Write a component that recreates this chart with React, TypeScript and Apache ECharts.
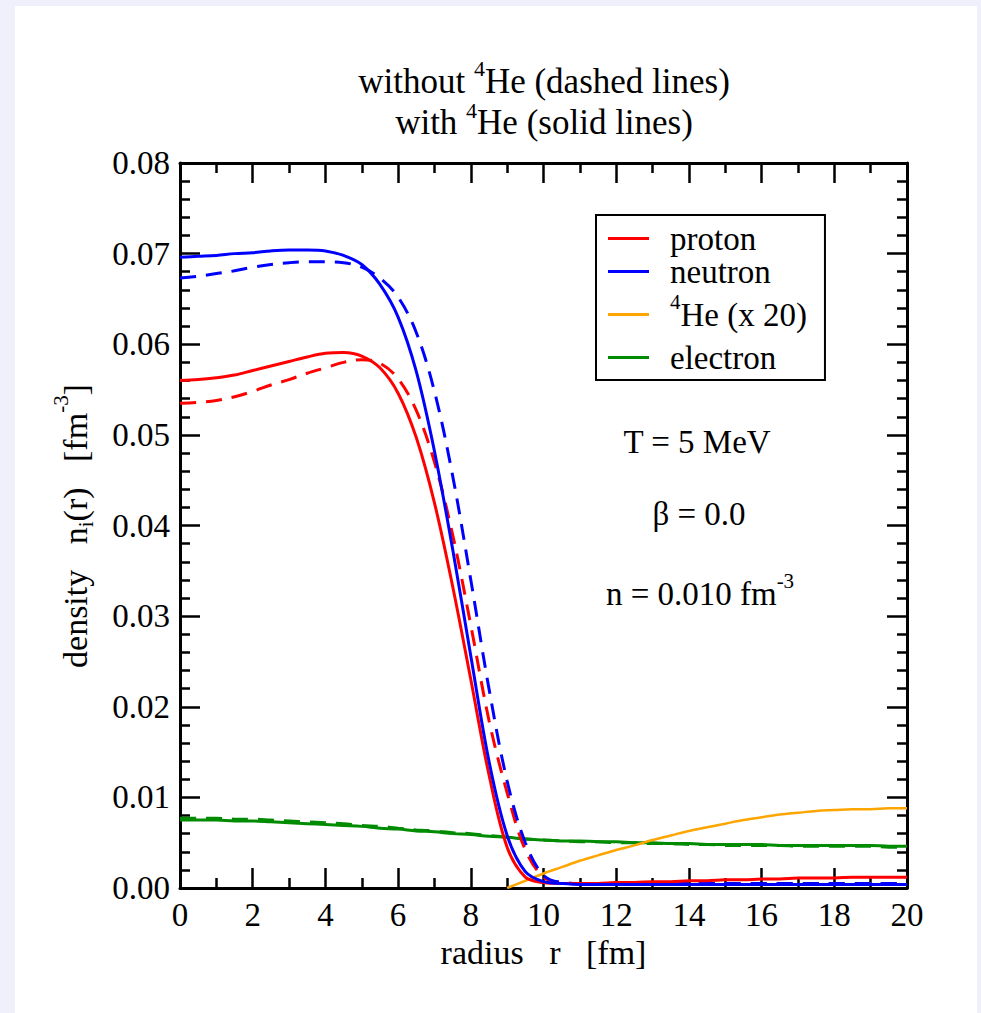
import React, { useEffect, useRef } from "react";
import * as echarts from "echarts";

const FONT = '"Liberation Serif", "Times New Roman", serif';

// radius grid [fm], step 0.5
const radius = [0, 0.5, 1, 1.5, 2, 2.5, 3, 3.5, 4, 4.5, 5, 5.5, 6, 6.5, 7, 7.5, 8, 8.5, 9, 9.5, 10, 10.5, 11, 11.5, 12, 12.5, 13, 13.5, 14, 14.5, 15, 15.5, 16, 16.5, 17, 17.5, 18, 18.5, 19, 19.5, 20];

// with 4He (solid lines)
const protonWith = [0.0560, 0.0561, 0.0563, 0.0566, 0.0571, 0.0576, 0.0581, 0.0586, 0.0590, 0.0591, 0.0587, 0.0574, 0.0546, 0.0497, 0.0425, 0.0333, 0.0230, 0.0125, 0.0045, 0.0012, 0.0006, 0.0005, 0.0005, 0.0005, 0.0006, 0.0006, 0.0007, 0.0007, 0.0008, 0.0008, 0.0009, 0.0009, 0.0010, 0.0010, 0.0011, 0.0011, 0.0011, 0.0012, 0.0012, 0.0012, 0.0012];
const neutronWith = [0.0696, 0.0697, 0.0698, 0.0700, 0.0701, 0.0703, 0.0704, 0.0704, 0.0703, 0.0698, 0.0688, 0.0666, 0.0630, 0.0570, 0.0482, 0.0374, 0.0256, 0.0140, 0.0058, 0.0018, 0.0007, 0.0005, 0.0004, 0.0004, 0.0004, 0.0004, 0.0004, 0.0004, 0.0004, 0.0004, 0.0004, 0.0004, 0.0004, 0.0004, 0.0004, 0.0004, 0.0004, 0.0004, 0.0004, 0.0004, 0.0004];
const heliumX20 = [null, null, null, null, null, null, null, null, null, null, null, null, null, null, null, null, null, null, 0.0000, 0.0008, 0.0016, 0.0023, 0.0030, 0.0036, 0.0042, 0.0047, 0.0053, 0.0058, 0.0063, 0.0067, 0.0071, 0.0075, 0.0078, 0.0081, 0.0083, 0.0085, 0.0086, 0.0087, 0.0087, 0.0088, 0.0088];
const electronWith = [0.0075, 0.0075, 0.0075, 0.0074, 0.0074, 0.0073, 0.0072, 0.0071, 0.0070, 0.0069, 0.0068, 0.0066, 0.0065, 0.0063, 0.0062, 0.0060, 0.0059, 0.0057, 0.0056, 0.0054, 0.0053, 0.0052, 0.0052, 0.0051, 0.0051, 0.0050, 0.0050, 0.0049, 0.0049, 0.0048, 0.0048, 0.0048, 0.0048, 0.0047, 0.0047, 0.0047, 0.0047, 0.0047, 0.0047, 0.0046, 0.0046];

// without 4He (dashed lines)
const protonWithout = [0.0535, 0.0536, 0.0538, 0.0542, 0.0548, 0.0555, 0.0561, 0.0568, 0.0574, 0.0580, 0.0583, 0.0579, 0.0562, 0.0527, 0.0470, 0.0390, 0.0290, 0.0185, 0.0105, 0.0042, 0.0012, 0.0006, 0.0005, 0.0005, 0.0005, 0.0005, 0.0005, 0.0005, 0.0005, 0.0005, 0.0005, 0.0005, 0.0005, 0.0005, 0.0005, 0.0005, 0.0005, 0.0005, 0.0005, 0.0005, 0.0005];
const neutronWithout = [0.0673, 0.0675, 0.0678, 0.0681, 0.0685, 0.0688, 0.0690, 0.0691, 0.0691, 0.0690, 0.0685, 0.0673, 0.0652, 0.0613, 0.0548, 0.0455, 0.0340, 0.0220, 0.0118, 0.0050, 0.0014, 0.0006, 0.0005, 0.0005, 0.0005, 0.0005, 0.0005, 0.0005, 0.0005, 0.0005, 0.0005, 0.0005, 0.0005, 0.0005, 0.0005, 0.0005, 0.0005, 0.0005, 0.0005, 0.0005, 0.0005];
const electronWithout = [0.0077, 0.0077, 0.0077, 0.0076, 0.0076, 0.0075, 0.0074, 0.0073, 0.0072, 0.0071, 0.0069, 0.0068, 0.0066, 0.0064, 0.0063, 0.0061, 0.0060, 0.0058, 0.0056, 0.0054, 0.0053, 0.0052, 0.0051, 0.0051, 0.0050, 0.0050, 0.0049, 0.0049, 0.0048, 0.0048, 0.0047, 0.0047, 0.0047, 0.0047, 0.0046, 0.0046, 0.0046, 0.0046, 0.0046, 0.0045, 0.0045];

const legendNames = ["proton", "neutron", "4He", "electron"];
const RED = "#ff0000";
const BLUE = "#0000ff";
const ORANGE = "#ffa500";
const GREEN = "#008b00";

const pairs = (vals: (number | null)[]) => radius.map((r, i) => [r, vals[i]]);

function lineSeries(name: string, vals: (number | null)[], color: string, dashed: boolean, width = 3, z = 2) {
  return {
    type: "line",
    name,
    data: pairs(vals),
    showSymbol: false,
    symbol: "none",
    smooth: 0.35,
    z,
    lineStyle: { color, width, type: dashed ? [16, 10] : "solid" },
    itemStyle: { color },
  };
}

const axisCommon = {
  axisLine: { onZero: false, lineStyle: { color: "#000", width: 3 } },
  axisTick: { inside: true, length: 20, lineStyle: { color: "#000", width: 2.5 } },
  minorTick: { show: true, length: 10, lineStyle: { color: "#000", width: 2.5 } },
  splitLine: { show: false },
  minorSplitLine: { show: false },
};

export default function App() {
  const ref = useRef<HTMLDivElement>(null);
  useEffect(() => {
    if (!ref.current) return;
    const chart = echarts.init(ref.current, null, { renderer: "svg" });
    const supStyle = (p: number, fs = 21) => ({ fontSize: fs, fontFamily: FONT, fill: "#000", padding: [0, 0, p, 0] });
    chart.setOption({
      animation: false,
      backgroundColor: "#f0f0fc",
      textStyle: { fontFamily: FONT },
      grid: { left: 180, top: 163, width: 727, height: 725 },
      xAxis: [
        {
          type: "value", min: 0, max: 20, interval: 2, position: "bottom",
          ...axisCommon,
          minorTick: { ...axisCommon.minorTick, splitNumber: 2 },
          axisLabel: { color: "#000", fontSize: 33, fontFamily: FONT, margin: 10 },
          name: "radius\u00a0\u00a0\u00a0r\u00a0\u00a0\u00a0[fm]",
          nameLocation: "middle",
          nameGap: 43,
          nameTextStyle: { color: "#000", fontSize: 34, fontFamily: FONT },
        },
        {
          type: "value", min: 0, max: 20, interval: 2, position: "top",
          ...axisCommon,
          minorTick: { ...axisCommon.minorTick, splitNumber: 2 },
          axisLabel: { show: false },
        },
      ],
      yAxis: [
        {
          type: "value", min: 0, max: 0.08, interval: 0.01, position: "left",
          ...axisCommon,
          minorTick: { ...axisCommon.minorTick, splitNumber: 5 },
          axisLabel: { color: "#000", fontSize: 33, fontFamily: FONT, margin: 10, formatter: (v: number) => v.toFixed(2) },
        },
        {
          type: "value", min: 0, max: 0.08, interval: 0.01, position: "right",
          ...axisCommon,
          minorTick: { ...axisCommon.minorTick, splitNumber: 5 },
          axisLabel: { show: false },
        },
      ],
      legend: {
        data: legendNames,
        orient: "vertical",
        left: 596,
        top: 215,
        itemWidth: 41,
        itemHeight: 3,
        itemGap: 0,
        icon: "rect",
        selectedMode: false,
        padding: [7, 18, 6, 12],
        borderColor: "#000",
        borderWidth: 2,
        backgroundColor: "#fff",
        textStyle: {
          color: "#000", fontSize: 33, fontFamily: FONT, padding: [0, 0, 0, 16],
          rich: {
            t: { color: "#000", fontSize: 33, fontFamily: FONT, lineHeight: 34 },
            sup: { color: "#000", fontSize: 21, fontFamily: FONT, padding: [3, 0, 29, 0], lineHeight: 54 },
          },
        },
        formatter: (name: string) => (name === "4He" ? "{sup|4}{t|He (x 20)}" : "{t|" + name + "}"),
      },
      graphic: [
        { type: "rect", z: -10, silent: true, shape: { x: 15, y: 6, width: 962, height: 1007 }, style: { fill: "#ffffff" } },
        {
          type: "text", x: 544, y: 62, silent: true,
          style: {
            text: "{t|without }{sup|4}{t|He (dashed lines)}",
            align: "center", verticalAlign: "top",
            rich: {
              t: { fontSize: 35, fontFamily: FONT, fill: "#000", lineHeight: 38 },
              sup: { ...supStyle(26, 22), lineHeight: 38 },
            },
          },
        },
        {
          type: "text", x: 544, y: 103, silent: true,
          style: {
            text: "{t|with }{sup|4}{t|He (solid lines)}",
            align: "center", verticalAlign: "top",
            rich: {
              t: { fontSize: 35, fontFamily: FONT, fill: "#000", lineHeight: 38 },
              sup: { ...supStyle(23, 22), lineHeight: 38 },
            },
          },
        },
        {
          type: "text", x: 697, y: 442, silent: true,
          style: { text: "T = 5 MeV", fontSize: 33, fontFamily: FONT, fill: "#000", align: "center", verticalAlign: "middle" },
        },
        {
          type: "text", x: 699, y: 514, silent: true,
          style: { text: "β = 0.0", fontSize: 33, fontFamily: FONT, fill: "#000", align: "center", verticalAlign: "middle" },
        },
        {
          type: "text", x: 700, y: 594, silent: true,
          style: {
            text: "{t|n = 0.010 fm}{sup|-3}",
            align: "center", verticalAlign: "middle",
            rich: {
              t: { fontSize: 33, fontFamily: FONT, fill: "#000" },
              sup: supStyle(26),
            },
          },
        },
        {
          type: "text", x: 75, y: 526, rotation: Math.PI / 2, silent: true,
          style: {
            text: "{t|density\u00a0\u00a0\u00a0n}{sub|i}{t|(r)\u00a0\u00a0\u00a0[fm}{sup|-3}{t|]}",
            align: "center", verticalAlign: "middle",
            rich: {
              t: { fontSize: 34, fontFamily: FONT, fill: "#000" },
              sub: { fontSize: 21, fontFamily: FONT, fill: "#000", padding: [22, 0, 0, 0] },
              sup: supStyle(28),
            },
          },
        },
      ],
      series: [
        lineSeries("electron (without 4He)", electronWithout, GREEN, true, 3, 2),
        lineSeries("electron", electronWith, GREEN, false, 3, 3),
        lineSeries("4He", heliumX20, ORANGE, false, 2.5, 3),
        lineSeries("proton (without 4He)", protonWithout, RED, true, 3, 4),
        lineSeries("neutron (without 4He)", neutronWithout, BLUE, true, 3, 4),
        lineSeries("proton", protonWith, RED, false, 3, 5),
        lineSeries("neutron", neutronWith, BLUE, false, 3, 5),
      ],
    });
    return () => chart.dispose();
  }, []);
  return <div ref={ref} style={{ position: "absolute", left: 0, top: 0, width: 981, height: 1013 }} />;
}
